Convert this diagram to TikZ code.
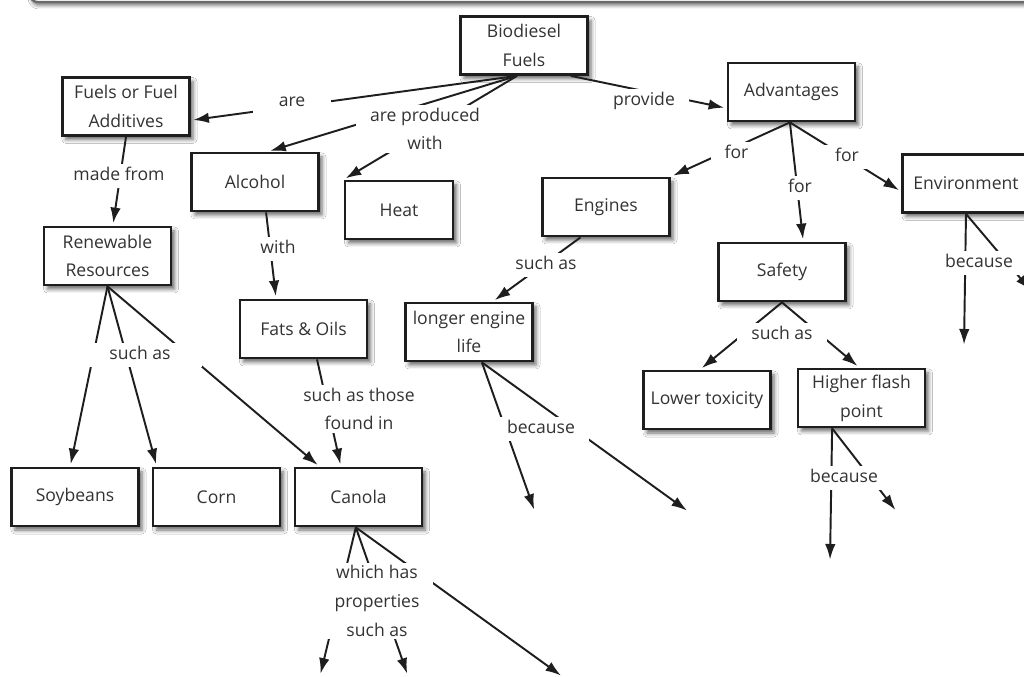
\documentclass[tikz,border=0pt]{standalone}
\usepackage{fontspec}
\setmainfont{Open Sans}
\usepackage{xcolor}
\usepackage{tikz}
\usetikzlibrary{arrows.meta,shadows.blur}
\definecolor{Ink}{HTML}{1E1E1E}
\definecolor{Txt}{HTML}{333333}
\definecolor{Frame}{HTML}{6A6A6A}
\tikzset{
  concept/.style={draw=Ink,line width=1.6pt,fill=white,minimum width=25.4mm,minimum height=11.6mm,inner sep=1pt,align=center,text=Txt,font=\fontsize{10}{16.4}\selectfont,blur shadow={shadow xshift=0.7mm,shadow yshift=-0.8mm,shadow blur radius=0.8mm,shadow opacity=60}},
  phrase/.style={fill=white,inner xsep=2.8mm,inner ysep=1.6pt,align=center,text=Txt,font=\fontsize{10}{16.4}\selectfont},
  oneline/.style={text height=7.6pt,text depth=2.4pt},
  link/.style={-{Latex[length=3.1mm,width=2.1mm]},line width=1.1pt,draw=Ink,shorten >=0.5mm},
  frame/.style={draw=Frame,line width=1.3pt,fill=white,rounded corners=1.5mm}
}

\begin{document}
\begin{tikzpicture}[x=0.2mm,y=-0.2mm]
  \useasboundingbox (0,0) rectangle (1024,677);
  \fill[white] (0,0) rectangle (1024,677);
  \clip (0,0) rectangle (1024,677);
  \draw[frame,blur shadow={shadow xshift=0.3mm,shadow yshift=-0.7mm,shadow blur radius=0.7mm,shadow opacity=55}] (30,-60) rectangle (1100,2);

  \node[concept] (bio) at (524,45.5) {Biodiesel\\Fuels};
  \node[concept] (fuels) at (126,106.5) {Fuels or Fuel\\Additives};
  \node[concept] (alcohol) at (255,182) {Alcohol};
  \node[concept,minimum width=21.6mm] (heat) at (399,210) {Heat};
  \node[concept] (adv) at (791.5,92) {Advantages};
  \node[concept] (engines) at (606,207) {Engines};
  \node[concept] (env) at (966,183.5) {Environment};
  \node[concept] (renew) at (107.5,256) {Renewable\\Resources};
  \node[concept] (fats) at (303.5,329) {Fats \& Oils};
  \node[concept] (longer) at (469,332) {longer engine\\life};
  \node[concept] (safety) at (782,272) {Safety};
  \node[concept] (lower) at (707,400) {Lower toxicity};
  \node[concept] (higher) at (861.5,398) {Higher flash\\point};
  \node[concept] (soy) at (75,497) {Soybeans};
  \node[concept] (corn) at (216.5,497) {Corn};
  \node[concept] (canola) at (358.5,497) {Canola};

  \coordinate (c1) at (320,676);
  \coordinate (c2) at (408,676);
  \coordinate (c3) at (563,677);
  \coordinate (l1) at (535,512);
  \coordinate (l2) at (689,512);
  \coordinate (h1) at (830,562);
  \coordinate (h2) at (897,512);
  \coordinate (v1) at (964,347);
  \coordinate (v2) at (1032,292);

  \draw[link] (bio.-103) -- (fuels.-12);
  \draw[link] (bio.-103) -- (alcohol.67);
  \draw[link] (bio.-103) -- (heat.north west);
  \draw[link] (bio.-33) -- (adv.-166);
  \draw[link] (adv.-93) -- (engines.north east);
  \draw[link] (adv.-93) -- (safety.55);
  \draw[link] (adv.-93) -- (env.-173);
  \draw[link] (fuels.south) -- (renew.80);
  \draw[link] (alcohol.-70) -- (fats.132);
  \draw[link] (renew.south) -- (soy.99);
  \draw[link] (renew.south) -- (corn.153);
  \draw[link] (renew.south) -- (canola.142);
  \draw[link] (fats.-66) -- (canola.120);
  \draw[link] (canola.-95) -- (c1);
  \draw[link] (canola.-95) -- (c2);
  \draw[link] (canola.-95) -- (c3);
  \draw[link] (engines.-130) -- (longer.52);
  \draw[link] (longer.-67) -- (l1);
  \draw[link] (longer.-67) -- (l2);
  \draw[link] (safety.south) -- (lower.103);
  \draw[link] (safety.south) -- (higher.94);
  \draw[link] (higher.-134) -- (h1);
  \draw[link] (higher.-134) -- (h2);
  \draw[link] (env.south) -- (v1);
  \draw[link] (env.south) -- (v2);

  \node[phrase,oneline,minimum width=15.6mm] (lbAre) at (292,102) {are};
  \node[phrase] (lbProd) at (425,129) {are produced\\with};
  \node[phrase,oneline] (lbProvide) at (644,100.5) {provide};
  \node[phrase,oneline] (lbForE) at (736.5,154) {for};
  \node[phrase,oneline] (lbForS) at (800,188) {for};
  \node[phrase,oneline] (lbForV) at (847,157) {for};
  \node[phrase,oneline] (lbMade) at (119,176) {made from};
  \node[phrase,oneline] (lbWith) at (278,249) {with};
  \node[phrase,oneline,minimum width=24.8mm] (lbSuchR) at (140,355) {such as};
  \node[phrase] (lbFound) at (359,409) {such as those\\found in};
  \node[phrase] (lbWhich) at (377,601) {which has\\properties\\such as};
  \node[phrase,oneline] (lbSuchE) at (546,265) {such as};
  \node[phrase,oneline] (lbBecL) at (541,429) {because};
  \node[phrase,oneline] (lbSuchS) at (782,335) {such as};
  \node[phrase,oneline] (lbBecH) at (844,478) {because};
  \node[phrase,oneline] (lbBecV) at (979,263) {because};
\end{tikzpicture}
\end{document}
